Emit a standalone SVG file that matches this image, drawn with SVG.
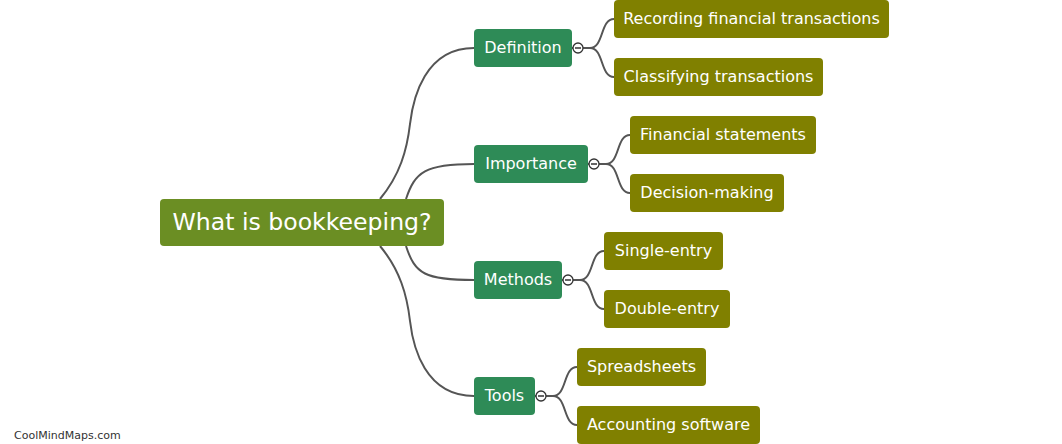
<svg xmlns="http://www.w3.org/2000/svg" width="1062" height="444" viewBox="0 0 1062 444">
<style>
.c{fill:none;stroke:#555555;stroke-width:2}
.root{fill:#6B8E23}
.br{fill:#2E8B57}
.lf{fill:#808000}
text{font-family:"DejaVu Sans","Liberation Sans",sans-serif;fill:#ffffff}
.t16{font-size:16px}
.tg circle{fill:#ffffff;stroke:#333333;stroke-width:1.3}
.tg line{stroke:#333333;stroke-width:1.5}
</style>
<rect width="1062" height="444" fill="#ffffff"/>
<g id="connectors">
<path class="c" d="M380,199 C400,175 407,150 410,124 S425,48 474,48"/>
<path class="c" d="M406,199 C415,172 425,164 474,164"/>
<path class="c" d="M406,246 C415,274 425,280 474,280"/>
<path class="c" d="M380,246 C400,270 407,295 410,321 S425,396 474,396"/>
<path class="c" d="M572,48 L590,48 C604,48 600,19 614,19"/>
<path class="c" d="M572,48 L590,48 C604,48 600,77 614,77"/>
<path class="c" d="M588,164 L606,164 C620,164 616,135 630,135"/>
<path class="c" d="M588,164 L606,164 C620,164 616,193 630,193"/>
<path class="c" d="M562,280 L580,280 C594,280 590,251 604,251"/>
<path class="c" d="M562,280 L580,280 C594,280 590,309 604,309"/>
<path class="c" d="M535,396 L553,396 C567,396 563,367 577,367"/>
<path class="c" d="M535,396 L553,396 C567,396 563,425 577,425"/>
</g>
<g id="root">
<rect class="root" x="160" y="199" width="284" height="47" rx="4"/>
<text x="302" y="229.5" font-size="23.6" text-anchor="middle">What is bookkeeping?</text>
</g>
<g id="definition">
<rect class="br" x="474" y="29" width="98" height="38" rx="4"/>
<text class="t16" x="523" y="52.5" text-anchor="middle">Definition</text>
<g class="tg"><circle cx="578" cy="48" r="5"/><line x1="575" y1="48" x2="581" y2="48"/></g>
</g>
<g id="importance">
<rect class="br" x="474" y="145" width="114" height="38" rx="4"/>
<text class="t16" x="531" y="168.5" text-anchor="middle">Importance</text>
<g class="tg"><circle cx="594" cy="164" r="5"/><line x1="591" y1="164" x2="597" y2="164"/></g>
</g>
<g id="methods">
<rect class="br" x="474" y="261" width="88" height="38" rx="4"/>
<text class="t16" x="518" y="284.5" text-anchor="middle">Methods</text>
<g class="tg"><circle cx="568" cy="280" r="5"/><line x1="565" y1="280" x2="571" y2="280"/></g>
</g>
<g id="tools">
<rect class="br" x="474" y="377" width="61" height="38" rx="4"/>
<text class="t16" x="504.5" y="400.5" text-anchor="middle">Tools</text>
<g class="tg"><circle cx="541" cy="396" r="5"/><line x1="538" y1="396" x2="544" y2="396"/></g>
</g>
<g id="leaf-recording">
<rect class="lf" x="614" y="0" width="275" height="38" rx="4"/>
<text class="t16" x="751.5" y="23.5" text-anchor="middle">Recording financial transactions</text>
</g>
<g id="leaf-classifying">
<rect class="lf" x="614" y="58" width="209" height="38" rx="4"/>
<text class="t16" x="718.5" y="81.5" text-anchor="middle">Classifying transactions</text>
</g>
<g id="leaf-financial">
<rect class="lf" x="630" y="116" width="186" height="38" rx="4"/>
<text class="t16" x="723" y="139.5" text-anchor="middle">Financial statements</text>
</g>
<g id="leaf-decision">
<rect class="lf" x="630" y="174" width="154" height="38" rx="4"/>
<text class="t16" x="707" y="197.5" text-anchor="middle">Decision-making</text>
</g>
<g id="leaf-single">
<rect class="lf" x="604" y="232" width="119" height="38" rx="4"/>
<text class="t16" x="663.5" y="255.5" text-anchor="middle">Single-entry</text>
</g>
<g id="leaf-double">
<rect class="lf" x="604" y="290" width="126" height="38" rx="4"/>
<text class="t16" x="667" y="313.5" text-anchor="middle">Double-entry</text>
</g>
<g id="leaf-spreadsheets">
<rect class="lf" x="577" y="348" width="129" height="38" rx="4"/>
<text class="t16" x="641.5" y="371.5" text-anchor="middle">Spreadsheets</text>
</g>
<g id="leaf-accounting">
<rect class="lf" x="577" y="406" width="183" height="38" rx="4"/>
<text class="t16" x="668.5" y="429.5" text-anchor="middle">Accounting software</text>
</g>
<text x="14" y="439" font-size="11" style="fill:#333333">CoolMindMaps.com</text>
</svg>
